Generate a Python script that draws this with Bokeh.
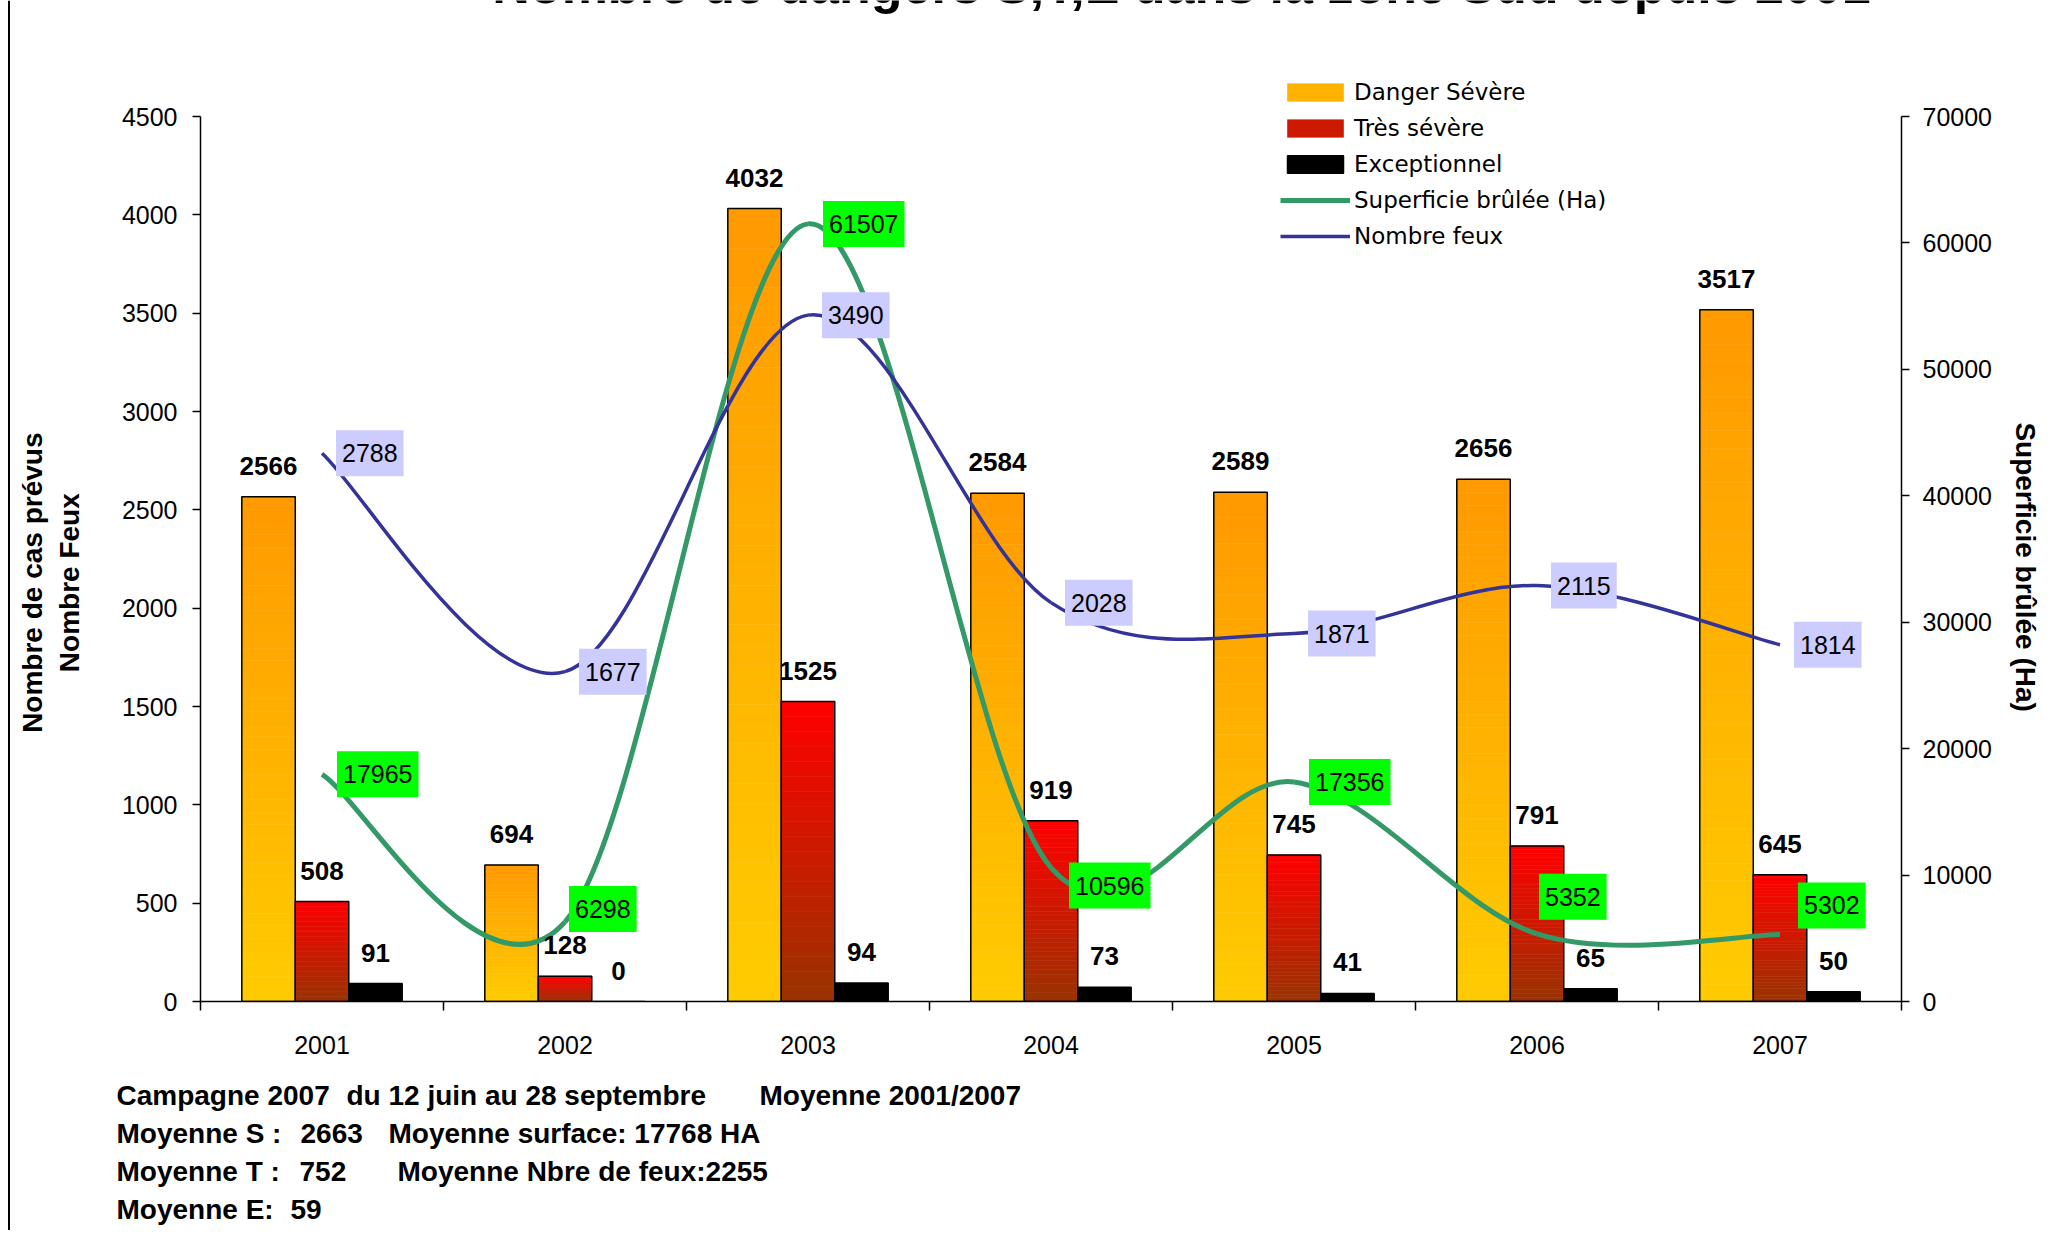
import math
from bokeh.plotting import figure
from bokeh.layouts import row, column
from bokeh.models import (Range1d, LinearAxis, FixedTicker, Label, Legend,
                          LegendItem, BoxAnnotation, ColumnDataSource)
from bokeh.core.properties import value
from bokeh.embed import file_html
from bokeh.resources import INLINE

# ---------------- data ----------------
years = ["2001", "2002", "2003", "2004", "2005", "2006", "2007"]
danger_severe = [2566, 694, 4032, 2584, 2589, 2656, 3517]
tres_severe = [508, 128, 1525, 919, 745, 791, 645]
exceptionnel = [91, 0, 94, 73, 41, 65, 50]
superficie = [17965, 6298, 61507, 10596, 17356, 5352, 5302]
nombre_feux = [2788, 1677, 3490, 2028, 1871, 2115, 1814]
left_ticks = [0, 500, 1000, 1500, 2000, 2500, 3000, 3500, 4000, 4500]
right_ticks = [0, 10000, 20000, 30000, 40000, 50000, 60000, 70000]
LEFT_MAX = 4500
RIGHT_MAX = 70000

title_text = "Nombre de dangers S,T,E dans la zone Sud depuis 2001"
left_title_lines = ["Nombre de cas prévus", "Nombre Feux"]
right_title = "Superficie brûlée (Ha)"
footer_text = ["Campagne 2007", "du 12 juin au 28 septembre", "Moyenne 2001/2007",
               "Moyenne S :", "2663", "Moyenne surface: 17768 HA",
               "Moyenne T :", "752", "Moyenne Nbre de feux:2255",
               "Moyenne E:", "59"]
footer_x = [116, 346, 759, 116, 300, 388, 116, 299, 397, 116, 290]
footer_y = [1095, 1095, 1095, 1133, 1133, 1133, 1171, 1171, 1171, 1209, 1209]

# label nudges (screen px) for the green labels
green_dx = [15, 4, 15, 18, 15, 2, 18]
green_dy = [0, 13, 0, -18, 0, 37, 29]

# ---------------- layout (pixels) ----------------
STRIP_W = 10
TOTAL_W, TOTAL_H = 2044, 1230
MAIN_W = TOTAL_W - STRIP_W
MAIN_H = 1070
FOOT_H = TOTAL_H - MAIN_H
FRAME_LEFT, FRAME_RIGHT = 200, 1905       # picture x of the frame edges
AXIS_TOP, FRAME_BOTTOM = 116, 1001        # picture y of the axis top / zero line
frame_h = FRAME_BOTTOM                    # frame starts at the top of the canvas
axis_h = FRAME_BOTTOM - AXIS_TOP
NBSP = "\u00a0"

p = figure(width=MAIN_W, height=MAIN_H, title=None,
           x_range=Range1d(0, len(years)),
           y_range=Range1d(0, LEFT_MAX * frame_h / axis_h),
           output_backend="svg", toolbar_location=None,
           min_border_left=FRAME_LEFT - STRIP_W,
           min_border_right=TOTAL_W - FRAME_RIGHT,
           min_border_top=0, min_border_bottom=MAIN_H - FRAME_BOTTOM)
p.frame_align = False
p.extra_y_ranges = {"area": Range1d(0, RIGHT_MAX * frame_h / axis_h)}
p.xgrid.visible = False
p.ygrid.visible = False
p.outline_line_color = None
p.background_fill_color = "white"
p.border_fill_color = "white"

TICK_FONT = "Liberation Sans"

# left axis
ay = p.yaxis[0]
ay.ticker = FixedTicker(ticks=left_ticks)
ay.bounds = (0, LEFT_MAX)
ay.major_tick_out = 8
ay.major_tick_in = 0
ay.minor_tick_out = 0
ay.minor_tick_in = 0
ay.axis_line_width = 1.5
ay.axis_line_color = "black"
ay.major_tick_line_color = "black"
ay.major_tick_line_width = 1.5
ay.major_label_text_font = TICK_FONT
ay.major_label_text_font_size = "25px"
ay.major_label_text_color = "black"
ay.major_label_standoff = 15
# trailing no-break spaces push the centred title a little towards the bottom
ay.axis_label = "\n".join(t + NBSP * 21 for t in left_title_lines)
ay.axis_label_text_font = "Liberation Sans"
ay.axis_label_text_font_style = "bold"
ay.axis_label_text_font_size = "28px"
ay.axis_label_text_color = "black"
ay.axis_label_standoff = 34

# right axis
ar = LinearAxis(y_range_name="area", ticker=FixedTicker(ticks=right_ticks))
ar.bounds = (0, RIGHT_MAX)
ar.major_tick_out = 8
ar.major_tick_in = 0
ar.minor_tick_out = 0
ar.minor_tick_in = 0
ar.axis_line_width = 1.5
ar.axis_line_color = "black"
ar.major_tick_line_width = 1.5
ar.major_label_text_font = TICK_FONT
ar.major_label_text_font_size = "25px"
ar.major_label_text_color = "black"
ar.major_label_standoff = 13
ar.axis_label = NBSP * 17 + right_title
ar.axis_label_text_font = "Liberation Sans"
ar.axis_label_text_font_style = "bold"
ar.axis_label_text_font_size = "28px"
ar.axis_label_text_color = "black"
ar.axis_label_standoff = 15
p.add_layout(ar, "right")

# x axis
centers = [i + 0.5 for i in range(len(years))]
ax = p.xaxis[0]
ax.ticker = FixedTicker(ticks=centers, minor_ticks=list(range(len(years) + 1)))
ax.major_label_overrides = {c: y for c, y in zip(centers, years)}
ax.major_tick_line_color = None
ax.major_tick_out = 0
ax.major_tick_in = 0
ax.minor_tick_out = 9
ax.minor_tick_in = 0
ax.minor_tick_line_color = "black"
ax.minor_tick_line_width = 1.5
ax.axis_line_width = 1.5
ax.axis_line_color = "black"
ax.major_label_text_font = TICK_FONT
ax.major_label_text_font_size = "25px"
ax.major_label_text_color = "black"
ax.major_label_standoff = 25


# ---------------- bars with vertical gradient ----------------
def hex2rgb(h):
    h = h.lstrip("#")
    return tuple(int(h[i:i + 2], 16) for i in (0, 2, 4))


def lerp(c0, c1, t):
    a, b = hex2rgb(c0), hex2rgb(c1)
    return "#%02x%02x%02x" % tuple(int(round(a[k] + (b[k] - a[k]) * t)) for k in range(3))


BAR_W = 0.22
offsets = [-0.22, 0.0, 0.22]
NSL = 40
grad_series = [
    (danger_severe, offsets[0], "#FFCC00", "#FF9900"),
    (tres_severe, offsets[1], "#993300", "#FF0000"),
]
bar_renderers = []
for vals, off, c_bot, c_top in grad_series:
    xs, bots, tops, cols = [], [], [], []
    for c, v in zip(centers, vals):
        for k in range(NSL):
            xs.append(c + off)
            bots.append(v * k / NSL)
            tops.append(v * (k + 1) / NSL)
            cols.append(lerp(c_bot, c_top, (k + 0.5) / NSL))
    src = ColumnDataSource(dict(x=xs, bottom=bots, top=tops, color=cols))
    r_fill = p.vbar(x="x", bottom="bottom", top="top", width=BAR_W, source=src,
                    fill_color="color", line_color="color", line_width=0.6)
    r_edge = p.vbar(x=[c + off for c in centers], top=vals, width=BAR_W,
                    fill_color=None, line_color="black", line_width=1.5)
    bar_renderers.append([r_fill, r_edge])

r_ex = p.vbar(x=[c + offsets[2] for c in centers], top=exceptionnel, width=BAR_W,
              fill_color="black", line_color="black", line_width=1.5)


# ---------------- smoothed lines (Bezier through the data points) ----------------
def smooth_segments(xs, ys):
    n = len(xs)
    out = dict(x0=[], y0=[], x1=[], y1=[], cx0=[], cy0=[], cx1=[], cy1=[])
    for i in range(n - 1):
        im, ip = max(i - 1, 0), min(i + 2, n - 1)
        out["x0"].append(xs[i]); out["y0"].append(ys[i])
        out["x1"].append(xs[i + 1]); out["y1"].append(ys[i + 1])
        out["cx0"].append(xs[i] + (xs[i + 1] - xs[im]) / 6)
        out["cy0"].append(ys[i] + (ys[i + 1] - ys[im]) / 6)
        out["cx1"].append(xs[i + 1] - (xs[ip] - xs[i]) / 6)
        out["cy1"].append(ys[i + 1] - (ys[ip] - ys[i]) / 6)
    return out


GREEN = "#339966"
BLUE = "#333399"
r_sb = p.bezier(source=ColumnDataSource(smooth_segments(centers, superficie)),
                x0="x0", y0="y0", x1="x1", y1="y1", cx0="cx0", cy0="cy0", cx1="cx1", cy1="cy1",
                line_color=GREEN, line_width=5, y_range_name="area")
r_nf = p.bezier(source=ColumnDataSource(smooth_segments(centers, nombre_feux)),
                x0="x0", y0="y0", x1="x1", y1="y1", cx0="cx0", cy0="cy0", cx1="cx1", cy1="cy1",
                line_color=BLUE, line_width=3.5)

# ---------------- value labels above bars ----------------
for vals, off in zip([danger_severe, tres_severe, exceptionnel], offsets):
    p.text(x=[c + off for c in centers], y=vals, text=[str(v) for v in vals],
           text_align="center", text_baseline="alphabetic", y_offset=-31,
           text_font=value("Liberation Sans"), text_font_style="bold",
           text_font_size="26px", text_color="black")

# ---------------- boxed line labels ----------------
PAD = (6, 6, 14, 14)
for c, v in zip(centers, nombre_feux):
    p.add_layout(Label(x=c, y=v, text=str(v), x_offset=14, y_offset=0,
                       text_align="left", text_baseline="middle",
                       text_font=TICK_FONT, text_font_size="25px", text_color="black",
                       background_fill_color="#CCCCFF", padding=PAD))
for c, v, dx, dy in zip(centers, superficie, green_dx, green_dy):
    p.add_layout(Label(x=c, y=v, text=str(v), x_offset=dx, y_offset=dy,
                       y_range_name="area",
                       text_align="left", text_baseline="middle",
                       text_font=TICK_FONT, text_font_size="25px", text_color="black",
                       background_fill_color="#00FF00", padding=PAD))

# ---------------- legend ----------------
legend = Legend(items=[
    LegendItem(label="Danger Sévère", renderers=bar_renderers[0], index=NSL // 2),
    LegendItem(label="Très sévère", renderers=bar_renderers[1], index=NSL // 2),
    LegendItem(label="Exceptionnel", renderers=[r_ex]),
    LegendItem(label="Superficie brûlée (Ha)", renderers=[r_sb]),
    LegendItem(label="Nombre feux", renderers=[r_nf]),
], location=(1080, 752), orientation="vertical", border_line_color=None,
    background_fill_alpha=0, padding=0, margin=0, spacing=10,
    glyph_width=70, glyph_height=22, label_height=22, label_standoff=4,
    label_text_font="DejaVu Sans", label_text_font_size="23px", label_text_color="black")
p.add_layout(legend)

# ---------------- chart title (cut by the top edge, as in the original) ----------------
p.add_layout(Label(x=981, y=FRAME_BOTTOM + 16, x_units="screen", y_units="screen", text=title_text,
                   text_align="center", text_baseline="alphabetic", text_color="black",
                   text_font="Liberation Sans", text_font_style="bold", text_font_size="52px"))

# ---------------- footer ----------------
f = figure(width=MAIN_W, height=FOOT_H, title=None,
           x_range=Range1d(STRIP_W, TOTAL_W), y_range=Range1d(TOTAL_H, MAIN_H),
           x_axis_type=None, y_axis_type=None, output_backend="svg", toolbar_location=None,
           min_border=0, min_border_left=0, min_border_right=0,
           min_border_top=0, min_border_bottom=0)
f.frame_align = False
f.outline_line_color = None
f.text(x=footer_x, y=footer_y, text=footer_text, text_align="left", text_baseline="middle",
       text_font=value("Liberation Sans"), text_font_style="bold",
       text_font_size="28px", text_color="black")

# ---------------- left border strip ----------------
s = figure(width=STRIP_W, height=TOTAL_H, title=None,
           x_range=Range1d(0, STRIP_W), y_range=Range1d(0, 1),
           x_axis_type=None, y_axis_type=None, output_backend="svg", toolbar_location=None,
           min_border=0, min_border_left=0, min_border_right=0,
           min_border_top=0, min_border_bottom=0)
s.frame_align = False
s.outline_line_color = None
s.add_layout(BoxAnnotation(left=7.5, right=9.5, fill_color="black", fill_alpha=1.0,
                           line_color=None))

layout = row(s, column(p, f, spacing=0), spacing=0)
open("out.html", "w").write(file_html(layout, INLINE))
